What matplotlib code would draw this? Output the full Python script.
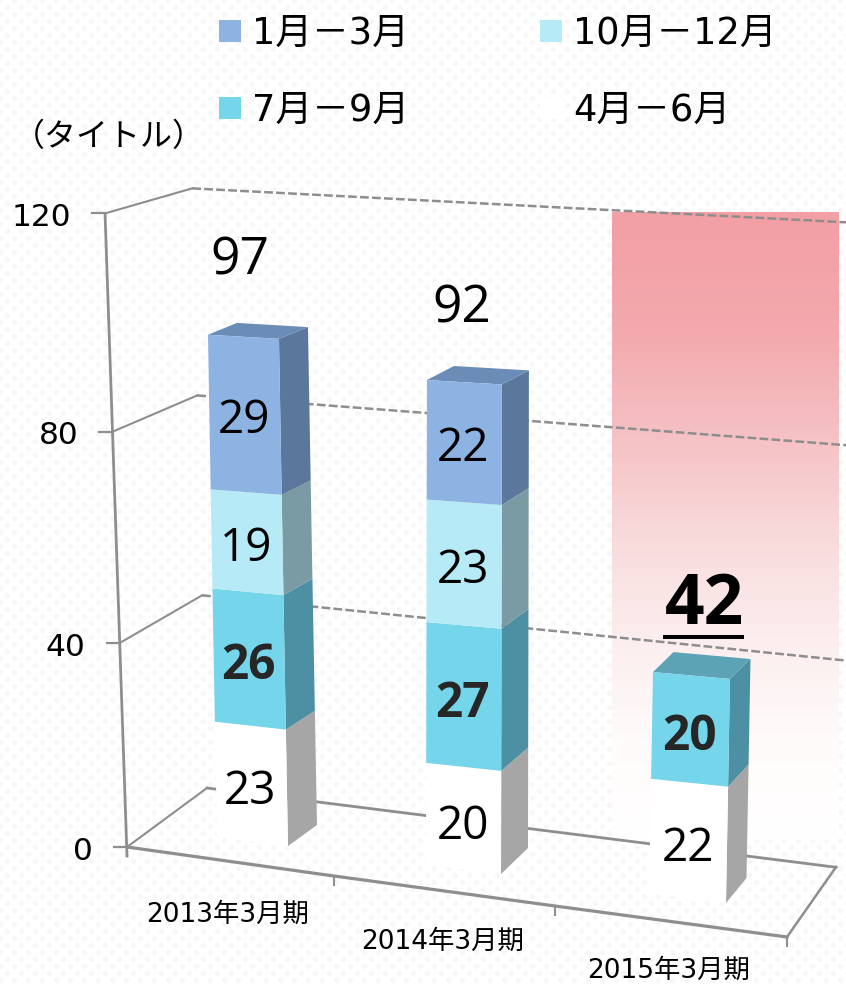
import numpy as np
import matplotlib
matplotlib.use('Agg')
import matplotlib.pyplot as plt
from matplotlib.patches import Polygon, Rectangle

plt.rcParams['font.family'] = ['DejaVu Sans', 'Noto Sans CJK JP']

# data
categorias = ['2013年3月期', '2014年3月期', '2015年3月期']
series_nomes = ['4月－6月', '7月－9月', '10月－12月', '1月－3月']
abr_jun = [23, 20, 22]
jul_set = [26, 27, 20]
out_dez = [19, 23, None]
jan_mar = [29, 22, None]
totais = [97, 92, 42]
ticks_valor = [0, 40, 80, 120]

# faces: frente, topo, lado
cor_frente = ['#FFFFFF', '#75D5EA', '#B5EAF6', '#8DB3E2']
cor_topo = ['#C8C8C8', '#5CA3B6', '#8FB5BE', '#6B8CB6']
cor_lado = ['#A6A6A6', '#4D8FA3', '#7A9BA3', '#5B789C']
cor_eixo = '#8E8E8E'

# geometria da perspectiva, em pixels da figura
base_dir_x = [288, 501, 726]
base_dir_y = [846, 874, 903]
inclina_x = [-0.093, 0.01, 0.095]
largura = [71, 75, 77]
escala_y = [1.0, 1.02, 1.045]
prof_x = [29, 27, 20.5]
prof_y0 = [21, 26, 25]
prof_yk = [0.095, 0.13, 0.12]


def altura(v):
    # eixo de valores nao e linear por causa da perspectiva
    return v * (5.01 + 0.00225 * v)


def frente_dir(c, v):
    return (base_dir_x[c] + inclina_x[c] * v, base_dir_y[c] - escala_y[c] * altura(v))


def frente_esq(c, v):
    x, y = frente_dir(c, v)
    return (x - largura[c], y - (9 - 0.05 * v))


def profundo(c, ponto, v):
    return (ponto[0] + prof_x[c], ponto[1] - (prof_y0[c] - prof_yk[c] * v))


def parede(v):
    return (127 - 0.183 * v, 847 - altura(v))


def parede_fundo(v):
    x, y = parede(v)
    return (x + 80 + 0.06 * v, y - (59 - 0.283 * v))


fig = plt.figure(figsize=(8.46, 9.84), dpi=100)
ax = fig.add_axes([0, 0, 1, 1])
ax.set_xlim(0, 846)
ax.set_ylim(984, 0)
ax.axis('off')

# fundo pontilhado bem claro
yy, xx = np.mgrid[0:984, 0:846]
d1 = np.hypot((xx % 14) - 7, (yy % 14) - 7)
d2 = np.hypot(((xx + 7) % 14) - 7, ((yy + 7) % 14) - 7)
fundo = np.where((d1 < 2.4) | (d2 < 2.4), 0.965, 1.0)
ax.imshow(fundo, cmap='gray', vmin=0, vmax=1, extent=(0, 846, 984, 0), zorder=0, aspect='auto')

# faixa vermelha com gradiente (2015)
grad_y = np.linspace(212, 840, 256)
pos = [212, 330, 430, 540, 640, 740, 840]
rosa = np.zeros((256, 1, 3))
rosa[:, 0, 0] = np.interp(grad_y, pos, [0xF2, 0xF3, 0xF5, 0xF9, 0xFC, 0xFF, 0xFF]) / 255
rosa[:, 0, 1] = np.interp(grad_y, pos, [0x9F, 0xA9, 0xC0, 0xDB, 0xEE, 0xFB, 0xFF]) / 255
rosa[:, 0, 2] = np.interp(grad_y, pos, [0xA5, 0xAD, 0xC3, 0xDC, 0xEE, 0xFB, 0xFF]) / 255
ax.imshow(rosa, extent=(612, 839, 840, 212), zorder=1, aspect='auto')

# parede e chao
for v in ticks_valor:
    x0, y0 = parede(v)
    x1, y1 = parede_fundo(v)
    ax.plot([x0 - 13, x0], [y0, y0], color=cor_eixo, lw=1.6, zorder=2)
    ax.plot([x0, x1], [y0, y1], color=cor_eixo, lw=1.5, zorder=2)
    inclinacao = 0.126 - 0.000617 * v
    if v == 0:
        xf = 836
        ax.plot([x1, xf], [y1, y1 + inclinacao * (xf - x1)], color=cor_eixo, lw=2, zorder=2)
    else:
        xf = 850
        ax.plot([x1, xf], [y1, y1 + inclinacao * (xf - x1)], color=cor_eixo, lw=1.8,
                ls=(0, (3.5, 1.3)), zorder=2)
    ax.text(x0 - 34, y0 + 4, str(v), ha='right', va='center', fontsize=22.5, color='black', zorder=6)

px, py = parede(120)
qx, qy = parede(0)
ax.plot([px, qx], [py, qy + 9], color=cor_eixo, lw=2, zorder=2)

# frente do chao, com as marcas entre categorias
frente_x = [127, 334, 555, 787]
frente_y = [847, 876, 906, 937]
ax.plot(frente_x, frente_y, color=cor_eixo, lw=2.3, zorder=2)
ax.plot([787, 836], [937, 867], color=cor_eixo, lw=1.8, zorder=2)
for x, y in zip(frente_x[1:], frente_y[1:]):
    ax.plot([x, x], [y, y + 9], color=cor_eixo, lw=1.5, zorder=2)

# barras empilhadas
rotulo_x = [228, 443, 669]
rotulo_y = [915, 942, 971]
empilhado = [abr_jun, jul_set, out_dez, jan_mar]
for c in range(3):
    acumulado = 0
    for s in range(4):
        valor = empilhado[s][c]
        if valor is None:
            continue
        topo = acumulado + valor
        fe_b, fd_b = frente_esq(c, acumulado), frente_dir(c, acumulado)
        fe_t, fd_t = frente_esq(c, topo), frente_dir(c, topo)
        ld_b, ld_t = profundo(c, fd_b, acumulado), profundo(c, fd_t, topo)
        ax.add_patch(Polygon([fd_b, ld_b, ld_t, fd_t], fc=cor_lado[s], ec='none', zorder=3))
        ax.add_patch(Polygon([fe_b, fd_b, fd_t, fe_t], fc=cor_frente[s], ec='none', zorder=4))
        if topo == totais[c]:
            ax.add_patch(Polygon([fe_t, fd_t, ld_t, profundo(c, fe_t, topo)],
                                 fc=cor_topo[s], ec='none', zorder=3))
        meio = acumulado + valor / 2
        mx = (frente_esq(c, meio)[0] + frente_dir(c, meio)[0]) / 2
        my = frente_dir(c, meio)[1]
        negrito = s == 1
        ax.text(mx - 1, my + 4, str(valor), ha='center', va='center', zorder=6,
                fontsize=34.5 if negrito else 33, family='Open Sans',
                fontweight='bold' if negrito else 'normal',
                color='#262626' if negrito else 'black')
        acumulado = topo
    ax.text(rotulo_x[c], rotulo_y[c], categorias[c], ha='center', va='center', fontsize=19, zorder=6)

# totais
ax.text(240, 261, str(totais[0]), ha='center', va='center', fontsize=37, family='Open Sans', zorder=6)
ax.text(462, 309, str(totais[1]), ha='center', va='center', fontsize=37, family='Open Sans', zorder=6)
ax.text(704, 606, str(totais[2]), ha='center', va='center', fontsize=50, family='Open Sans',
        fontweight='bold', zorder=6)
ax.add_patch(Rectangle((663, 635), 81, 4, fc='black', ec='none', zorder=6))

# legenda
leg_x = [219, 540, 219, 540]
leg_y = [20, 20, 97, 97]
leg_s = [3, 2, 1, 0]
for x, y, s in zip(leg_x, leg_y, leg_s):
    ax.add_patch(Rectangle((x, y), 22, 22, fc=cor_frente[s], ec='none', zorder=5))
    ax.text(x + 33, y + 13, series_nomes[s], ha='left', va='center', fontsize=26.5, zorder=6)

ax.text(109, 137, '（タイトル）', ha='center', va='center', fontsize=23,
        family=['Noto Sans CJK JP', 'DejaVu Sans'], zorder=6)

fig.savefig('out.png', dpi=100)
